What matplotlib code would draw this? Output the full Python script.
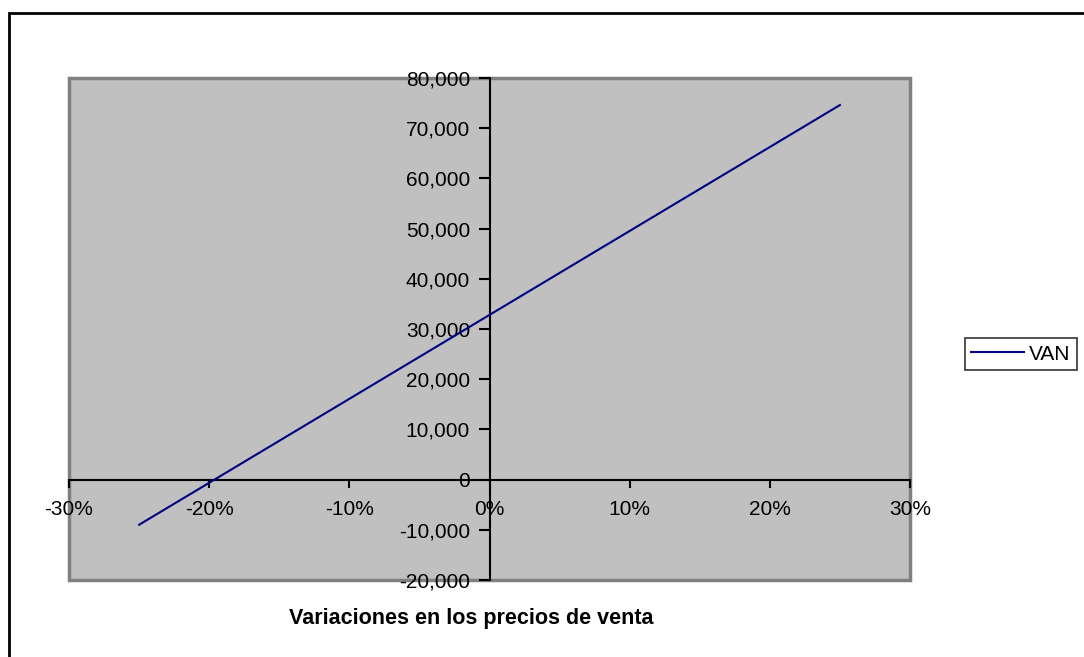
import matplotlib.pyplot as plt
from matplotlib.patches import Rectangle
from matplotlib.ticker import FuncFormatter, MultipleLocator

# Sensitivity of VAN to changes in sale prices
variacion = [-0.25, -0.20, -0.15, -0.10, -0.05, 0.0, 0.05, 0.10, 0.15, 0.20, 0.25]
van = [-8990, -630, 7730, 16090, 24450, 32810, 41170, 49530, 57890, 66250, 74610]

plt.rcParams['font.family'] = ['Liberation Sans', 'DejaVu Sans']

fig = plt.figure(figsize=(10.84, 6.57), dpi=100)
ax = fig.add_axes([0.0637, 0.1172, 0.7758, 0.7641])
ax.set_facecolor('#C0C0C0')

ax.plot(variacion, van, color='#000080', linewidth=1.5, label='VAN', zorder=3)

ax.set_xlim(-0.3, 0.3)
ax.set_ylim(-20000, 80000)
ax.xaxis.set_major_locator(MultipleLocator(0.1))
ax.yaxis.set_major_locator(MultipleLocator(10000))
ax.xaxis.set_major_formatter(FuncFormatter(lambda v, p: f'{v * 100:.0f}%'))
ax.yaxis.set_major_formatter(FuncFormatter(lambda v, p: f'{v:,.0f}'))

# axes crossing at zero
for s in ['top', 'right']:
    ax.spines[s].set_visible(False)
ax.spines['left'].set_position(('data', 0))
ax.spines['bottom'].set_position(('data', 0))
ax.spines['left'].set_linewidth(1.5)
ax.spines['bottom'].set_linewidth(1.5)
ax.tick_params(axis='both', labelsize=15, width=1.5, direction='out', colors='black')
ax.tick_params(axis='x', length=6, pad=9)
ax.tick_params(axis='y', length=8, pad=6)

# plot area border
ax.add_patch(Rectangle((0, 0), 1, 1, transform=ax.transAxes, fill=False,
                       edgecolor='#808080', linewidth=2.5, zorder=1, clip_on=False))

fig.text(0.435, 0.059, 'Variaciones en los precios de venta', ha='center', va='center',
         fontsize=15.5, fontweight='bold')

leg = fig.legend(loc='lower left', bbox_to_anchor=(0.890, 0.437), frameon=True,
                 fancybox=False, fontsize=15, handlelength=2.55, borderpad=0.3,
                 handletextpad=0.25, borderaxespad=0)
leg.get_frame().set_edgecolor('black')
leg.get_frame().set_linewidth(1.2)

# chart frame
fig.patches.append(Rectangle((9 / 1084, -0.05), 1.1, 0.05 + 1 - 13 / 657,
                             transform=fig.transFigure, fill=False,
                             edgecolor='black', linewidth=2))

fig.savefig('out.png', dpi=100)
